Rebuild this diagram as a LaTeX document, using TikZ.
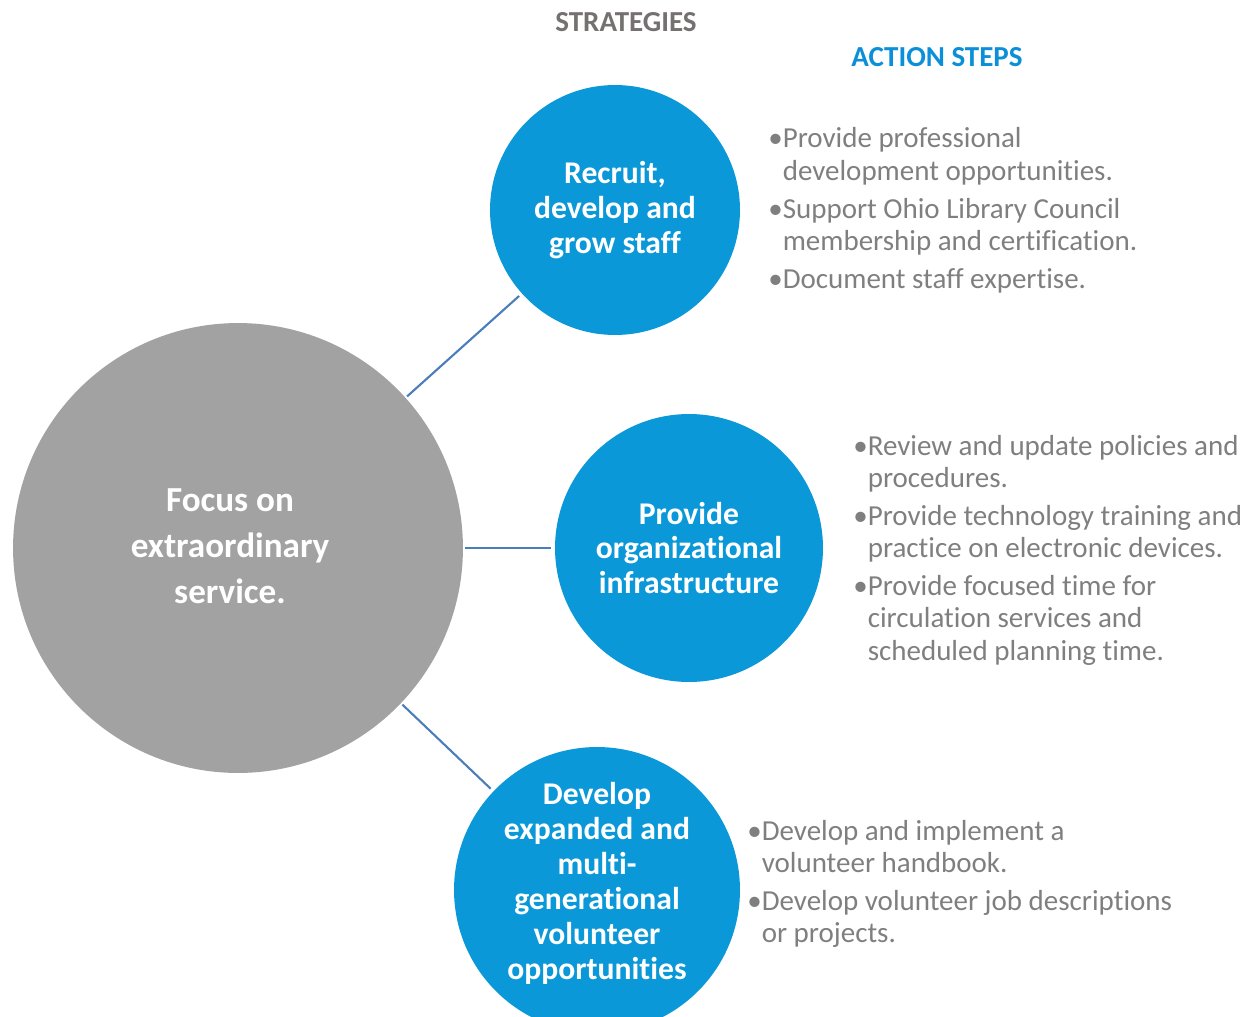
\documentclass[tikz,border=0pt]{standalone}
\usepackage{fontspec}
\setmainfont{Carlito}[Ligatures={TeX,NoCommon}]
\usepackage{tikz}
\definecolor{sblue}{HTML}{0B98D8}
\definecolor{hblue}{HTML}{0B8FD8}
\definecolor{fgrey}{HTML}{A2A2A2}
\definecolor{tgrey}{HTML}{7F7F7F}
\definecolor{hgrey}{HTML}{767171}
\definecolor{lblue}{HTML}{4A7EBB}
\newcommand{\bul}[1]{\textbullet\begin{tabular}[t]{@{}l@{}}#1\end{tabular}}

\begin{document}
\begin{tikzpicture}[x=0.02cm, y=-0.02cm, every node/.style={inner sep=0pt}]
	\tikzset{strat/.style={circle, fill=sblue, minimum size=#1},
		ctext/.style={text=white, align=center, font=\fontsize{18}{19.9}\selectfont\bfseries},
		act/.style={anchor=base west, text=tgrey, font=\fontsize{16.5}{18.5}\selectfont},
		head/.style={anchor=base, font=\fontsize{16.5}{19}\selectfont\bfseries},
		link/.style={draw=lblue, line width=1.2pt, shorten <=1pt, shorten >=2pt}}
	\clip (0,0) rectangle (1257,1017);
	\node[circle, fill=fgrey, minimum size=9cm] (f) at (238,548) {};
	\node[strat=5cm] (s1) at (615,210) {};
	\node[strat=5.36cm] (s2) at (689,548) {};
	\node[strat=5.72cm] (s3) at (597,890) {};
	\draw[link] (f) -- (s1);
	\draw[link] (f) -- (s2);
	\draw[link] (f) -- (s3);
	% circle texts
	\node[ctext, font=\fontsize{20}{26.2}\selectfont\bfseries] (ft) at (230,546) {Focus on\\extraordinary\\service.};
	\node[ctext] (t1) at (615,210) {Recruit,\\develop and\\grow staff};
	\node[ctext] (t2) at (689,548) {Provide\\organizational\\infrastructure};
	\node[ctext] (t3) at (597,883) {Develop\\expanded and\\multi-\\generational\\volunteer\\opportunities};
	% headings
	\node[head, text=hgrey] (h1) at (626,32) {STRATEGIES};
	\node[head, text=hblue] (h2) at (937,67) {ACTION STEPS};
	% action steps
	\node[act] (a1) at (768,148) {\bul{Provide professional\\development opportunities.}};
	\node[act] (a2) at (768,218) {\bul{Support Ohio Library Council\\membership and certification.}};
	\node[act] (a3) at (768,288) {\bul{Document staff expertise.}};
	\node[act] (b1) at (853,455) {\bul{Review and update policies and\\procedures.}};
	\node[act] (b2) at (853,525) {\bul{Provide technology training and\\practice on electronic devices.}};
	\node[act] (b3) at (853,595) {\bul{Provide focused time for\\circulation services and\\scheduled planning time.}};
	\node[act] (c1) at (747,840) {\bul{Develop and implement a\\volunteer handbook.}};
	\node[act] (c2) at (747,910) {\bul{Develop volunteer job descriptions\\or projects.}};
\end{tikzpicture}
\end{document}
